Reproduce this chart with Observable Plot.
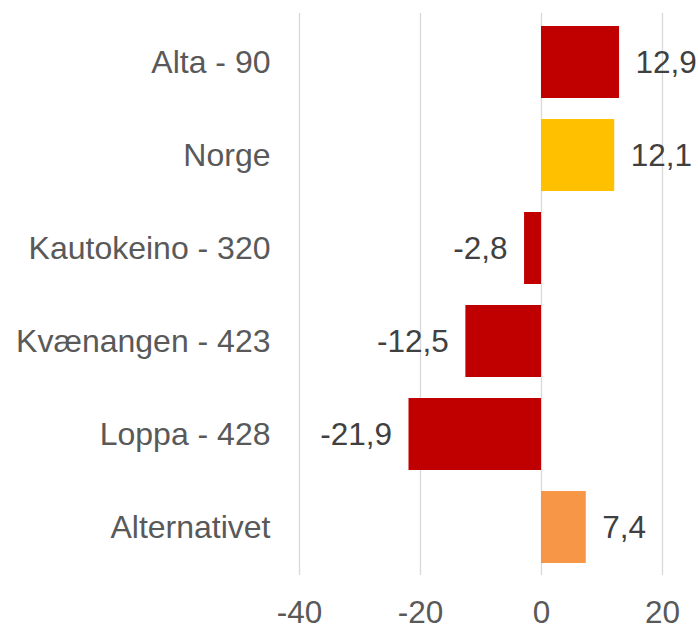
<!DOCTYPE html>
<html>
<head>
<meta charset="utf-8">
<script src="https://cdn.jsdelivr.net/npm/d3@7"></script>
<script src="https://cdn.jsdelivr.net/npm/@observablehq/plot@0.6"></script>
<style>
  html, body { margin: 0; padding: 0; background: #fff; }
</style>
</head>
<body>
<div id="chart"></div>
<script>
const categories = ["Alta - 90", "Norge", "Kautokeino - 320", "Kvænangen - 423", "Loppa - 428", "Alternativet"];
const values = [12.9, 12.1, -2.8, -12.5, -21.9, 7.4];
const colors = ["#C00000", "#FFC000", "#C00000", "#C00000", "#C00000", "#F79646"];
const xTicks = [-40, -20, 0, 20];

const data = categories.map((c, i) => ({name: c, value: values[i], color: colors[i]}));
const fmt = v => v.toFixed(1).replace(".", ",");

const chart = Plot.plot({
  width: 698,
  height: 625,
  marginLeft: 299,
  marginRight: 36,
  marginTop: 13,
  marginBottom: 50,
  style: {fontFamily: "'Liberation Sans', Arial, sans-serif", fontSize: "32px", color: "#595959", background: "#fff", overflow: "visible"},
  x: {domain: [-40, 20], label: null},
  y: {domain: categories, paddingInner: 0.23, paddingOuter: 0.115, label: null},
  marks: [
    Plot.gridX(xTicks, {stroke: "#d9d9d9", strokeOpacity: 1, strokeWidth: 1.3}),
    Plot.barX(data, {x: "value", y: "name", fill: "color"}),
    Plot.text(data.filter(d => d.value >= 0), {x: "value", y: "name", text: d => fmt(d.value), dx: 16, textAnchor: "start", fill: "#404040", fontSize: 31.5}),
    Plot.text(data.filter(d => d.value < 0), {x: "value", y: "name", text: d => fmt(d.value), dx: -17, textAnchor: "end", fill: "#404040", fontSize: 31.5}),
    Plot.axisY({tickSize: 0, tickPadding: 29, fontSize: 32, fill: "#595959", label: null}),
    Plot.axisX({ticks: xTicks, tickSize: 0, tickPadding: 25, fontSize: 31.5, fill: "#595959", label: null, tickFormat: d => String(d)})
  ]
});
document.getElementById("chart").appendChild(chart);
</script>
</body>
</html>
